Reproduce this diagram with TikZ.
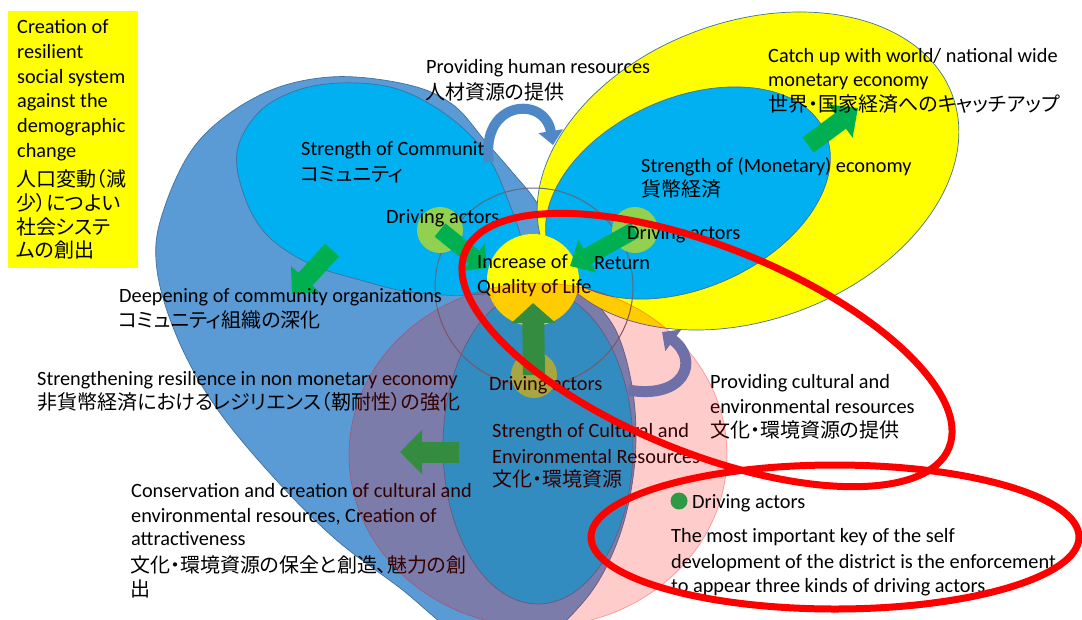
\documentclass[tikz,border=0pt]{standalone}
\usepackage{fontspec}
\setmainfont{Carlito}
\newfontfamily\jp{Noto Sans CJK JP}[RawFeature=+palt]
\usetikzlibrary{arrows.meta}
\definecolor{steel}{RGB}{91,155,213}
\definecolor{cyanb}{RGB}{0,176,240}
\definecolor{ygl}{RGB}{255,255,0}
\definecolor{lgreen}{RGB}{146,208,80}
\definecolor{garr}{RGB}{0,176,80}
\definecolor{edgec}{RGB}{65,113,156}
\definecolor{ringc}{RGB}{95,105,125}
\definecolor{curvb}{RGB}{79,136,198}
\definecolor{curvp}{RGB}{112,112,168}
\definecolor{legdot}{RGB}{47,154,69}
\tikzset{
  en/.style={anchor=base west, inner sep=0pt, font=\fontsize{20.3}{24}\selectfont, text=black},
  ja/.style={anchor=base west, inner sep=0pt, font=\jp\fontsize{20}{23}\selectfont, text=black},
  blob/.style={fill=#1, draw=edgec, line width=0.7pt},
  actor/.style={circle, fill=lgreen, minimum size=46pt, inner sep=0pt},
  garrow/.style args={#1/#2/#3}{draw=garr, line width=#1pt, -{Triangle[width=#2pt,length=#3pt]}},
  redring/.style={draw=red, line width=7pt},
}
\begin{document}
\begin{tikzpicture}[x=1pt,y=-1pt]
\useasboundingbox (0,0) rectangle (1082,619);
\fill[white] (0,0) rectangle (1082,619);
\begin{scope}
\clip (0,0) rectangle (1082,619);
% big steel-blue shape
\draw[blob=steel] plot[smooth cycle, tension=0.6] coordinates {
 (330,77) (405,84) (452,104) (486,142) (513,173) (537,203) (557,245) (588,292) (618,335)
 (634,400) (634,470) (618,540) (585,600) (530,645) (465,638) (400,588) (333,537)
 (267,470) (213,403) (177,337) (157,270) (162,215) (197,143) (260,95)};
% community ellipse
\draw[blob=cyanb] plot[smooth cycle, tension=0.6] coordinates {
 (237,152) (258,113) (295,91) (340,83) (390,87) (430,104) (465,130) (490,160)
 (508,200) (522,245) (515,285) (470,295) (410,292) (360,280) (310,264) (268,236) (245,198)};
% cultural inner
\draw[blob=cyanb] (538,447) ellipse [x radius=95pt, y radius=157pt];
% monetary outer and inner
\draw[blob=ygl, rotate around={20.4:(748,171)}] (748,171) ellipse [x radius=218pt, y radius=149pt];
\draw[blob=cyanb, rotate around={24:(688,193)}] (688,193) ellipse [x radius=150pt, y radius=95pt];
% ring
\draw[ringc, line width=1pt] (534,287) circle [radius=99pt];
% providing human resources arrow
\coordinate (hr1) at (489,162);
\coordinate (hr2) at (553,145);
\draw[curvb, line width=10pt, -{Triangle[width=24pt,length=14pt]}] (hr1) .. controls (480,100) and (545,95) .. (hr2);
% driving actors
\node[actor] (dal) at (440,230) {};
\node[actor] (dar) at (635,230) {};
\node[actor] (dab) at (534,375) {};
\node[circle, fill=ygl, minimum size=92pt, inner sep=0pt] (qol) at (533,280) {};
% green arrows
\coordinate (tl) at (487,268);
\coordinate (tr) at (570,266);
\coordinate (tb) at (533,303);
\draw[garrow=17/34/17] (dal.center) -- (tl);
\draw[garrow=17/36/20] (dar.center) -- (tr);
\draw[garrow=22/43/20] (dab.center) -- (tb);
\coordinate (c1) at (332,250); \coordinate (c2) at (292,294);
\draw[garrow=19/38/20] (c1) -- (c2);
\coordinate (m1) at (808,145); \coordinate (m2) at (858,108);
\draw[garrow=19/40/22] (m1) -- (m2);
\coordinate (k1) at (459,452); \coordinate (k2) at (400,452);
\draw[garrow=21/43/22] (k1) -- (k2);
% texts
\node[en] (t1) at (426,73) {Providing human resources};
\node[ja] (t2) at (425,99) {人材資源の提供};
\node[en] (t3) at (768,62) {Catch up with world/ national wide};
\node[en] (t4) at (768,86) {monetary economy};
\node[ja] (t5) at (768,111) {世界・国家経済へのキャッチアップ};
\node[en] (t6) at (301,155) {Strength of Communit};
\node[ja] (t7) at (300,181) {コミュニティ};
\node[en] (t8) at (641,172) {Strength of (Monetary) economy};
\node[ja] (t9) at (641,196) {貨幣経済};
\node[en] (t10) at (386,223) {Driving actors};
\node[en] (t11) at (627,239) {Driving actors};
\node[en] (t12) at (477,268) {Increase of};
\node[en] (t13) at (477,293) {Quality of Life};
\node[en] (t14) at (594,269) {Return};
\node[en] (t15) at (489,390) {Driving actors};
\node[en] (t16) at (119,302) {Deepening of community organizations};
\node[ja] (t17) at (118,327) {コミュニティ組織の深化};
\node[en] (t18) at (37,385) {Strengthening resilience in non monetary economy};
\node[ja] (t19) at (37,409) {非貨幣経済におけるレジリエンス（靭耐性）の強化};
\node[en] (t20) at (492,437) {Strength of Cultural and};
\node[en] (t21) at (492,463) {Environmental Resources};
\node[ja] (t22) at (492,486) {文化・環境資源};
\node[en] (t23) at (710,388) {Providing cultural and};
\node[en] (t24) at (710,413) {environmental resources};
\node[ja] (t25) at (710,437) {文化・環境資源の提供};
\node[en] (t26) at (131,497) {Conservation and creation of cultural and};
\node[en] (t27) at (131,522) {environmental resources, Creation of};
\node[en] (t28) at (131,545) {attractiveness};
\node[ja] (t29) at (130,572) {文化・環境資源の保全と創造、魅力の創};
\node[ja] (t30) at (130,596) {出};
% pink overlay
\fill[red, opacity=0.2] (538,455) ellipse [x radius=189pt, y radius=172pt];
\draw[red, opacity=0.3, line width=0.8pt] (538,455) ellipse [x radius=189pt, y radius=172pt];
% providing cultural resources arrow
\coordinate (pa1) at (628,390);
\coordinate (pa2) at (662,332);
\draw[curvp, line width=11pt, -{Triangle[width=26pt,length=14pt]}] (pa1) .. controls (685,400) and (700,360) .. (pa2);
% legend
\node[circle, fill=legdot, minimum size=17pt, inner sep=0pt] (ldot) at (679,501) {};
\node[en] (t31) at (692,508) {Driving actors};
\node[en] (t32) at (671,542) {The most important key of the self};
\node[en] (t33) at (671,568) {development of the district is the enforcement};
\node[en] (t34) at (671,592) {to appear three kinds of driving actors.};
% red ellipses
\draw[redring, rotate around={-22:(707,350)}] (707,350) ellipse [x radius=261pt, y radius=103pt];
\draw[redring] (835,537) ellipse [x radius=244pt, y radius=72pt];
% yellow box
\node[fill=ygl, minimum width=130pt, minimum height=257pt, anchor=north west, inner sep=0pt] (box) at (8,11) {};
\node[en] (b1) at (17,33) {Creation of};
\node[en] (b2) at (17,58) {resilient};
\node[en] (b3) at (17,83) {social system};
\node[en] (b4) at (17,107) {against  the};
\node[en] (b5) at (17,132) {demographic};
\node[en] (b6) at (17,157) {change};
\node[ja] (b7) at (16,186) {人口変動（減};
\node[ja] (b8) at (16,210) {少）につよい};
\node[ja] (b9) at (16,234) {社会システ};
\node[ja] (b10) at (16,257) {ムの創出};
\end{scope}
\end{tikzpicture}
\end{document}
